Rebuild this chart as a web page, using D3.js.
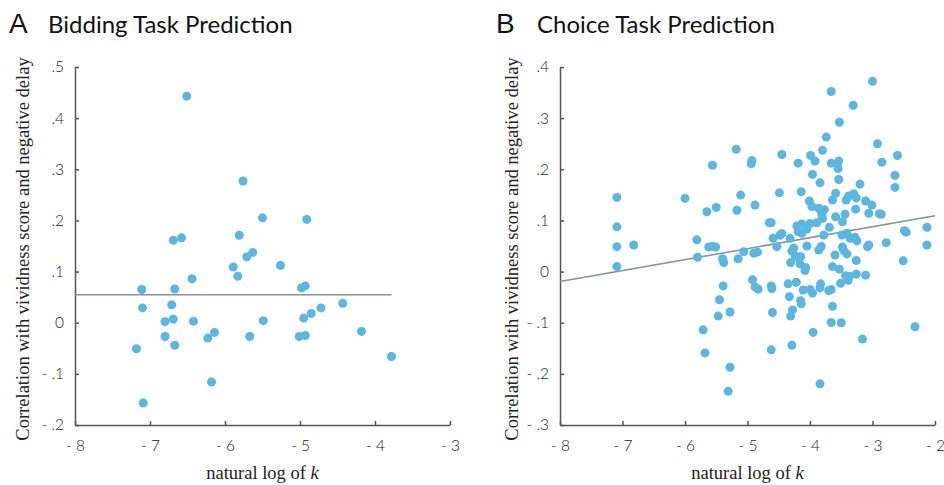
<!DOCTYPE html>
<html>
<head>
<meta charset="utf-8">
<script src="https://cdn.jsdelivr.net/npm/d3@7"></script>
<style>
  body { margin: 0; background: #fff; }
  .axis path, .axis line { stroke: #555; stroke-width: 1.5px; }
  .axis text { font-family: Lato, "Open Sans", sans-serif; font-weight: 300; font-size: 15.5px; fill: #222; }
  .title { font-family: Lato, sans-serif; font-size: 24px; fill: #111; }
  .letter { font-family: "Liberation Sans", Arial, sans-serif; font-size: 28px; fill: #111; }
  .label { font-family: "Liberation Serif", "Times New Roman", serif; font-size: 18.5px; fill: #222; }
</style>
</head>
<body>
<div id="chart"></div>
<script>
// panel A: bidding task, [ln k, correlation]
const bidPoints = [
  [-6.51, 0.443], [-5.76, 0.277], [-5.50, 0.205], [-4.91, 0.202], [-5.81, 0.171],
  [-6.58, 0.166], [-6.69, 0.161], [-5.63, 0.1375], [-5.71, 0.129], [-5.26, 0.112],
  [-5.89, 0.109], [-5.83, 0.091], [-6.44, 0.086], [-7.11, 0.065], [-6.67, 0.066],
  [-4.98, 0.068], [-4.93, 0.072], [-7.10, 0.029], [-6.71, 0.035], [-6.80, 0.002],
  [-6.69, 0.007], [-6.42, 0.003], [-5.49, 0.004], [-4.95, 0.009], [-4.85, 0.018],
  [-4.72, 0.029], [-4.43, 0.038], [-6.80, -0.027], [-6.67, -0.044], [-7.18, -0.051],
  [-6.23, -0.030], [-6.14, -0.019], [-5.67, -0.027], [-5.01, -0.027], [-4.93, -0.025],
  [-4.18, -0.017], [-3.78, -0.066], [-6.18, -0.116], [-7.09, -0.157]
];
const bidFit = [[-8, 0.0547], [-3.78, 0.0547]];

// panel B: choice task
const choicePoints = [
  [-3.66, 0.352], [-3.0, 0.372], [-3.31, 0.325], [-3.53, 0.292], [-3.74, 0.263],
  [-3.80, 0.237], [-5.18, 0.239], [-2.92, 0.250], [-4.45, 0.229], [-3.99, 0.227],
  [-2.60, 0.227], [-4.93, 0.217], [-4.94, 0.211], [-4.19, 0.212], [-3.92, 0.216],
  [-3.66, 0.212], [-3.54, 0.216], [-2.85, 0.214], [-5.56, 0.208], [-3.55, 0.2015],
  [-3.96, 0.190], [-2.64, 0.188], [-3.84, 0.1735], [-3.54, 0.180], [-3.20, 0.171],
  [-2.64, 0.1645], [-7.09, 0.145], [-6.0, 0.143], [-5.11, 0.1495], [-4.49, 0.154],
  [-4.14, 0.156], [-3.59, 0.153], [-3.38, 0.148], [-3.30, 0.152], [-3.26, 0.144],
  [-4.01, 0.138], [-3.64, 0.140], [-3.42, 0.140], [-3.11, 0.138], [-3.01, 0.130],
  [-4.88, 0.130], [-3.97, 0.127], [-3.86, 0.124], [-3.82, 0.118], [-3.77, 0.121],
  [-3.27, 0.122], [-5.50, 0.1255], [-5.65, 0.117], [-5.17, 0.120], [-3.81, 0.110],
  [-3.80, 0.104], [-3.59, 0.107], [-3.44, 0.112], [-3.48, 0.0975], [-3.06, 0.114],
  [-2.89, 0.113], [-2.86, 0.112], [-4.65, 0.0955], [-4.62, 0.0955], [-4.21, 0.089],
  [-4.13, 0.093], [-4.0, 0.094], [-3.89, 0.0955], [-3.69, 0.0865], [-7.09, 0.0875],
  [-4.45, 0.0745], [-4.48, 0.071], [-4.19, 0.078], [-4.13, 0.075], [-4.05, 0.083],
  [-3.78, 0.0715], [-3.49, 0.0715], [-3.41, 0.075], [-3.36, 0.065], [-3.28, 0.067],
  [-3.25, 0.060], [-2.49, 0.080], [-2.46, 0.077], [-2.13, 0.0865], [-5.81, 0.062],
  [-4.59, 0.065], [-4.32, 0.065], [-2.78, 0.0565], [-6.82, 0.052], [-7.09, 0.0487],
  [-5.62, 0.048], [-5.56, 0.049], [-5.51, 0.048], [-4.53, 0.0487], [-4.26, 0.046],
  [-4.29, 0.040], [-4.05, 0.050], [-3.86, 0.042], [-3.82, 0.049], [-3.48, 0.048],
  [-3.46, 0.041], [-3.06, 0.052], [-3.08, 0.049], [-2.13, 0.052], [-5.06, 0.039],
  [-4.90, 0.036], [-4.84, 0.038], [-3.60, 0.0325], [-3.41, 0.0345], [-5.80, 0.028],
  [-5.40, 0.025], [-5.38, 0.0175], [-5.15, 0.025], [-4.24, 0.031], [-4.19, 0.027],
  [-4.15, 0.029], [-4.31, 0.0175], [-4.16, 0.015], [-3.26, 0.0215], [-2.51, 0.021],
  [-7.09, 0.0097], [-4.07, 0.008], [-4.08, 0.002], [-3.64, 0.0097], [-3.53, 0.0047],
  [-3.43, -0.008], [-3.37, -0.009], [-3.39, -0.017], [-3.26, -0.005], [-3.11, -0.007],
  [-3.51, -0.023], [-4.92, -0.016], [-4.88, -0.030], [-4.83, -0.034], [-5.39, -0.028],
  [-4.62, -0.028], [-4.61, -0.033], [-4.35, -0.024], [-4.22, -0.021], [-4.11, -0.036],
  [-4.00, -0.035], [-3.96, -0.042], [-3.83, -0.024], [-3.84, -0.032], [-3.70, -0.037],
  [-3.66, -0.035], [-4.33, -0.049], [-4.15, -0.057], [-4.14, -0.063], [-5.45, -0.055],
  [-3.64, -0.068], [-4.60, -0.080], [-4.28, -0.075], [-4.31, -0.087], [-5.28, -0.079],
  [-5.47, -0.087], [-5.71, -0.114], [-3.66, -0.0995], [-3.50, -0.100], [-2.32, -0.108],
  [-3.95, -0.119], [-3.16, -0.132], [-5.68, -0.159], [-4.62, -0.153], [-4.29, -0.144],
  [-5.28, -0.187], [-3.84, -0.2195], [-5.31, -0.234]
];
const choiceFit = [[-8, -0.0195], [-2, 0.109]];

// ticks
const bidXTicks = [-8, -7, -6, -5, -4, -3];
const bidYTicks = [-0.2, -0.1, 0, 0.1, 0.2, 0.3, 0.4, 0.5];
const choiceXTicks = [-8, -7, -6, -5, -4, -3, -2];
const choiceYTicks = [-0.3, -0.2, -0.1, 0, 0.1, 0.2, 0.3, 0.4];

const yLabelText = 'Correlation with vividness score and negative delay';

// "- 8", ".5", "- .1"
function fmtX(d) { return d < 0 ? '- ' + Math.abs(d) : String(d); }
function fmtY(d) {
    if (Math.abs(d) < 1e-9) return '0';
    let s = Math.abs(d).toFixed(1).replace(/^0/, '');
    return d < 0 ? '- ' + s : s;
}

const svg = d3.select('#chart').append('svg')
    .attr('width', 944)
    .attr('height', 485);

function drawPanel(cfg) {
    const xScale = d3.scaleLinear().domain(cfg.xDomain).range([cfg.left, cfg.right]);
    const yScale = d3.scaleLinear().domain(cfg.yDomain).range([cfg.bottom, cfg.top]);
    const g = svg.append('g');

    // titles
    g.append('text').attr('class', 'letter')
        .attr('x', cfg.letterX).attr('y', 33).text(cfg.letter);
    g.append('text').attr('class', 'title')
        .attr('x', cfg.titleX).attr('y', 33).text(cfg.title);

    // axes, ticks point inward
    const xAxis = d3.axisBottom(xScale).tickValues(cfg.xTicks).tickFormat(fmtX)
        .tickSizeInner(-4).tickSizeOuter(0).tickPadding(15);
    const yAxis = d3.axisLeft(yScale).tickValues(cfg.yTicks).tickFormat(fmtY)
        .tickSizeInner(-4).tickSizeOuter(0).tickPadding(11);
    g.append('g').attr('class', 'axis x-axis')
        .attr('transform', `translate(0, ${cfg.bottom})`)
        .call(xAxis);
    g.append('g').attr('class', 'axis y-axis')
        .attr('transform', `translate(${cfg.left}, 0)`)
        .call(yAxis);

    // fit line
    const line = d3.line().x((d) => xScale(d[0])).y((d) => yScale(d[1]));
    g.append('path')
        .datum(cfg.fit)
        .attr('d', line)
        .attr('fill', 'none')
        .attr('stroke', '#8a9197')
        .attr('stroke-width', 1.6);

    // points
    g.append('g').selectAll('.dot')
        .data(cfg.points)
        .enter().append('circle')
        .attr('class', 'dot')
        .attr('cx', (d) => xScale(d[0]))
        .attr('cy', (d) => yScale(d[1]))
        .attr('r', 4.5)
        .attr('fill', '#5bb7e0');

    // axis labels
    g.append('text').attr('class', 'label')
        .attr('text-anchor', 'middle')
        .attr('transform', `translate(${cfg.yLabelX}, ${(cfg.top + cfg.bottom) / 2 + 3}) rotate(-90)`)
        .attr('dy', '0.35em')
        .text(yLabelText);
    const xl = g.append('text').attr('class', 'label')
        .attr('text-anchor', 'middle')
        .attr('x', (cfg.left + cfg.right) / 2)
        .attr('y', 479);
    xl.append('tspan').text('natural log of ');
    xl.append('tspan').attr('font-style', 'italic').text('k');
}

drawPanel({
    letter: 'A', letterX: 9, title: 'Bidding Task Prediction', titleX: 48,
    xDomain: [-8, -3], yDomain: [-0.2, 0.5],
    left: 75, right: 450, top: 67, bottom: 425,
    xTicks: bidXTicks, yTicks: bidYTicks,
    points: bidPoints, fit: bidFit, yLabelX: 23
});
drawPanel({
    letter: 'B', letterX: 496, title: 'Choice Task Prediction', titleX: 537,
    xDomain: [-8, -2], yDomain: [-0.3, 0.4],
    left: 560, right: 935, top: 67, bottom: 425,
    xTicks: choiceXTicks, yTicks: choiceYTicks,
    points: choicePoints, fit: choiceFit, yLabelX: 512
});
</script>
</body>
</html>
